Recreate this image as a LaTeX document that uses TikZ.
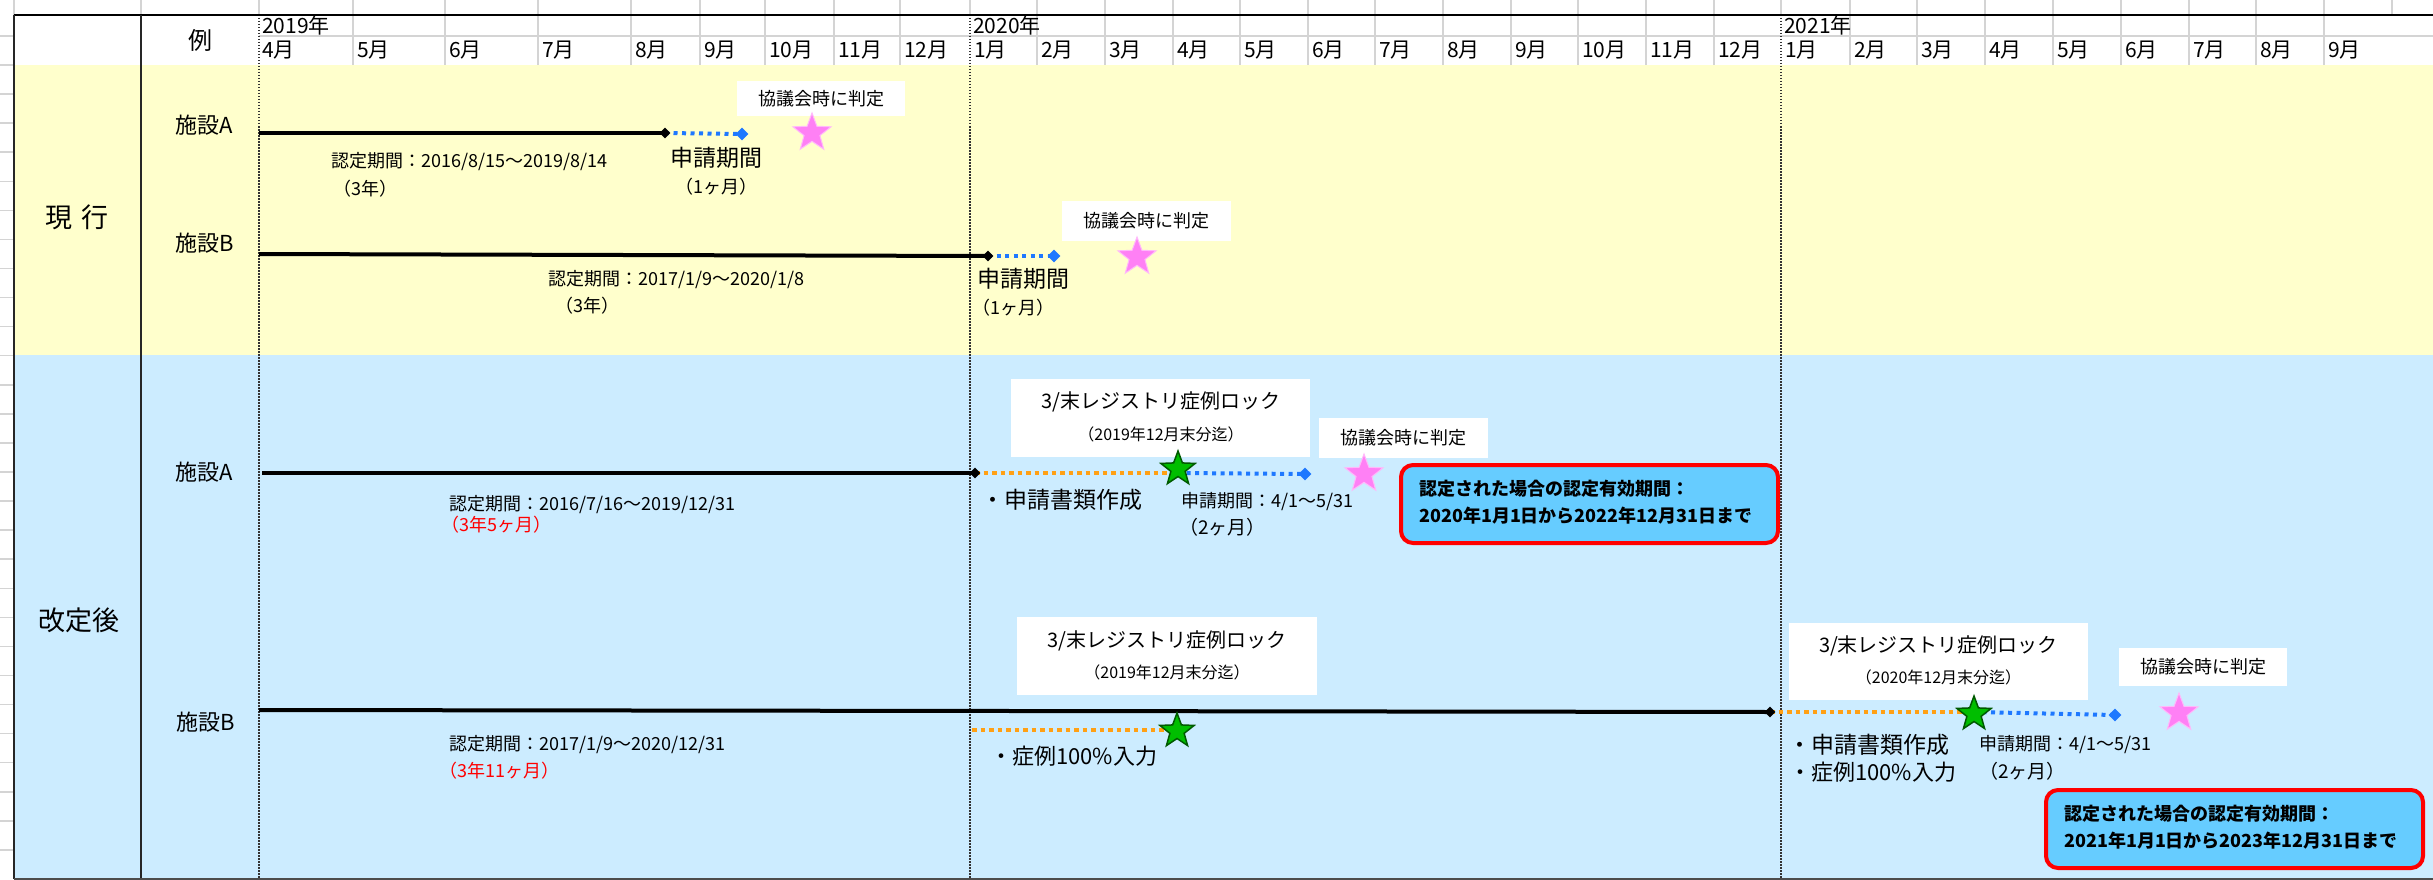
\documentclass[tikz,border=0pt]{standalone}
\usepackage{fontspec}
\setmainfont{Noto Sans CJK JP}
\usetikzlibrary{shapes.geometric}
\definecolor{yel}{RGB}{255,255,204}
\definecolor{lblue}{RGB}{204,236,255}
\definecolor{gridc}{RGB}{212,212,212}
\definecolor{dotblue}{RGB}{30,120,255}
\definecolor{dotorange}{RGB}{255,160,20}
\definecolor{pinkstar}{RGB}{255,128,245}
\definecolor{pinkedge}{RGB}{255,185,250}
\definecolor{greenstar}{RGB}{0,190,0}
\definecolor{greenedge}{RGB}{0,90,0}
\definecolor{boxblue}{RGB}{102,204,255}
\definecolor{redtext}{RGB}{255,0,0}
\newcommand{\myfs}[1]{\fontsize{#1pt}{#1pt}\selectfont}
\tikzset{
  gridline/.style={draw=gridc, line width=1.5pt},
  vdots/.style={draw=black!80, line width=1.5pt, dash pattern=on 1.5pt off 1.5pt},
  bline/.style={draw=black, line width=4pt},
  udot/.style={draw=dotblue, line width=4pt, dash pattern=on 4pt off 4.5pt},
  odot/.style={draw=dotorange, line width=4pt, dash pattern=on 4.5pt off 4pt},
  bdia/.style={diamond, fill=black, minimum size=11pt, inner sep=0pt},
  udia/.style={diamond, fill=dotblue, minimum size=13pt, inner sep=0pt},
  pstar/.style={star, star points=5, star point ratio=2.4, fill=pinkstar, draw=pinkedge, line width=1pt, minimum size=40pt, inner sep=0pt},
  gstar/.style={star, star points=5, star point ratio=2.4, fill=greenstar, draw=greenedge, line width=1.5pt, minimum size=36pt, inner sep=0pt},
  wbox/.style={fill=white, inner sep=0pt},
  rbox/.style={fill=boxblue, draw=redtext, line width=4pt, rounded corners=12pt, inner sep=0pt},
  txt/.style={inner sep=0pt, anchor=west},
  ctxt/.style={inner sep=0pt},
  hdr/.style={inner sep=0pt, anchor=west, font=\myfs{21}},
}
\begin{document}
\begin{tikzpicture}[x=1pt,y=-1pt]
\useasboundingbox (0,0) rectangle (2433,880);
\fill[white] (0,0) rectangle (2433,880);
\fill[yel] (14,65) rectangle (2433,355);
\fill[lblue] (14,355) rectangle (2433,879);
% spreadsheet grid outside and in header
\foreach \x in {14,141,259,353,445,538,631,700,765,834,900,970,1037,1105,1173,1240,1308,1375,1443,1511,1578,1646,1714,1781,1850,1917,1985,2053,2121,2189,2256,2324,2392}
  \draw[gridline] (\x,0) -- (\x,15);
\foreach \x in {353,445,538,631,700,765,834,900,1037,1105,1173,1240,1308,1375,1443,1511,1578,1646,1714,1850,1917,1985,2053,2121,2189,2256,2324}
  \draw[gridline] (\x,15) -- (\x,65);
\draw[gridline] (259,36) -- (2433,36);
\draw[gridline] (0,36) -- (14,36);
\foreach \k in {0,...,27}
  \draw[gridline] (0,{65+29.07*\k}) -- (14,{65+29.07*\k});
% year dividers
\draw[vdots] (259,15) -- (259,879);
\draw[vdots] (970,15) -- (970,879);
\draw[vdots] (1781,15) -- (1781,879);
% borders
\draw[black, line width=2.5pt] (14,15) -- (2433,15);
\draw[black!85, line width=2pt] (14,15) -- (14,879);
\draw[black!85, line width=2pt] (141,15) -- (141,879);
\draw[black!70, line width=1.5pt] (14,879) -- (2433,879);
% header
\node[ctxt, font=\myfs{24}] (rei) at (200,40) {例};
\node[hdr] (y2019) at (262,25) {2019年};
\node[hdr] (y2020) at (973,25) {2020年};
\node[hdr] (y2021) at (1784,25) {2021年};
\foreach \x/\m [count=\i] in {258/4,353/5,445/6,538/7,631/8,700/9,765/10,834/11,900/12,970/1,1037/2,1105/3,1173/4,1240/5,1308/6,1375/7,1443/8,1511/9,1578/10,1646/11,1714/12,1781/1,1850/2,1917/3,1985/4,2053/5,2121/6,2189/7,2256/8,2324/9}
  \node[hdr] (mon\i) at (\x+4,50) {\m 月};
% section labels
\node[ctxt, font=\myfs{27}] (genko) at (77,217) {現\hspace{10pt}行};
\node[ctxt, font=\myfs{27}] (kaitei) at (79,620) {改定後};
\node[txt, font=\myfs{22}] (gA) at (175,125) {施設A};
\node[txt, font=\myfs{22}] (gB) at (175,243) {施設B};
\node[txt, font=\myfs{22}] (kA) at (175,472) {施設A};
\node[txt, font=\myfs{22}] (kB) at (176,722) {施設B};

% ---------- white text boxes ----------
\node[wbox, minimum width=168pt, minimum height=35pt, font=\myfs{18}] (gAj) at (821,98.5) {協議会時に判定};
\node[wbox, minimum width=169pt, minimum height=40pt, font=\myfs{18}] (gBj) at (1146.5,221) {協議会時に判定};
\node[wbox, minimum width=299pt, minimum height=78pt] (kAlock) at (1160.5,418) {};
\node[ctxt, font=\myfs{20}] (kAlock1) at (1161,402) {3/末レジストリ症例ロック};
\node[ctxt, font=\myfs{16}] (kAlock2) at (1161,434) {（2019年12月末分迄）};
\node[wbox, minimum width=169pt, minimum height=40pt, font=\myfs{18}] (kAj) at (1403.5,438) {協議会時に判定};
\node[wbox, minimum width=300pt, minimum height=78pt] (kBlock) at (1167,656) {};
\node[ctxt, font=\myfs{20}] (kBlock1) at (1167,641) {3/末レジストリ症例ロック};
\node[ctxt, font=\myfs{16}] (kBlock2) at (1167,672) {（2019年12月末分迄）};
\node[wbox, minimum width=299pt, minimum height=77pt] (kBlockR) at (1938.5,661.5) {};
\node[ctxt, font=\myfs{20}] (kBlockR1) at (1938.5,646) {3/末レジストリ症例ロック};
\node[ctxt, font=\myfs{16}] (kBlockR2) at (1938.5,677) {（2020年12月末分迄）};
\node[wbox, minimum width=168pt, minimum height=38pt, font=\myfs{18}] (kBj) at (2203,667) {協議会時に判定};

% ---------- current A ----------
\coordinate (gA0) at (259,133);
\coordinate (gA1) at (665,133);
\coordinate (gA2) at (742,134);
\draw[bline] (gA0) -- (gA1);
\draw[udot] (gA1) -- (gA2);
\node[bdia] (gA1d) at (gA1) {};
\node[udia] (gA2d) at (gA2) {};
\node[pstar] (gAs) at (812,133) {};
\node[txt, font=\myfs{18}] (gAp) at (331,162) {認定期間：2016/8/15～2019/8/14};
\node[txt, font=\myfs{18}] (gAy) at (333,189) {（3年）};
\node[txt, font=\myfs{23}] (gAa) at (670,158) {申請期間};
\node[txt, font=\myfs{18}] (gAm) at (675,187) {（1ヶ月）};

% ---------- current B ----------
\coordinate (gB0) at (259,254);
\coordinate (gB1) at (988,256);
\coordinate (gB2) at (1054,256);
\draw[bline] (gB0) -- (gB1);
\draw[udot] (gB1) -- (gB2);
\node[bdia] (gB1d) at (gB1) {};
\node[udia] (gB2d) at (gB2) {};
\node[pstar] (gBs) at (1137,257) {};
\node[txt, font=\myfs{18}] (gBp) at (548,280) {認定期間：2017/1/9～2020/1/8};
\node[txt, font=\myfs{18}] (gBy) at (555,306) {（3年）};
\node[txt, font=\myfs{23}] (gBa) at (977,279) {申請期間};
\node[txt, font=\myfs{18}] (gBm) at (972,308) {（1ヶ月）};

% ---------- revised A ----------
\coordinate (kA0) at (262,473);
\coordinate (kA1) at (975,473);
\coordinate (kA2) at (1178,473);
\coordinate (kA3) at (1305,474);
\draw[bline] (kA0) -- (kA1);
\draw[odot] (kA1) -- (kA2);
\draw[udot] (kA2) -- (kA3);
\node[bdia] (kA1d) at (kA1) {};
\node[udia] (kA3d) at (kA3) {};
\node[gstar] (kAg) at (1178,469) {};
\node[pstar] (kAs) at (1364,474) {};
\node[txt, font=\myfs{18}] (kAp) at (449,505) {認定期間：2016/7/16～2019/12/31};
\node[txt, font=\myfs{18}, text=redtext] (kAy) at (441,525) {（3年5ヶ月）};
\node[txt, font=\myfs{23}] (kAd) at (981,500) {・申請書類作成};
\node[txt, font=\myfs{18}] (kAa) at (1181,502) {申請期間：4/1～5/31};
\node[txt, font=\myfs{19}] (kAm) at (1179,527) {（2ヶ月）};
\node[rbox, minimum width=377pt, minimum height=78pt] (kAr) at (1589.5,504) {};
\node[txt, font=\myfs{18}\bfseries] (kAr1) at (1419,489) {認定された場合の認定有効期間：};
\node[txt, font=\myfs{18}\bfseries] (kAr2) at (1419,516) {2020年1月1日から2022年12月31日まで};

% ---------- revised B ----------
\coordinate (kB0) at (259,710);
\coordinate (kB1) at (1770,712);
\coordinate (kB2) at (1974,712);
\coordinate (kB3) at (2115,715);
\coordinate (kC0) at (972,730);
\coordinate (kC1) at (1177,730);
\draw[bline] (kB0) -- (kB1);
\draw[odot] (kB1) -- (kB2);
\draw[udot] (kB2) -- (kB3);
\draw[odot] (kC0) -- (kC1);
\node[bdia] (kB1d) at (kB1) {};
\node[udia] (kB3d) at (kB3) {};
\node[gstar] (kBg) at (1974,714) {};
\node[gstar] (kCg) at (1177,731) {};
\node[pstar] (kBs) at (2179,713) {};
\node[txt, font=\myfs{18}] (kBp) at (449,745) {認定期間：2017/1/9～2020/12/31};
\node[txt, font=\myfs{18}, text=redtext] (kBy) at (439,771) {（3年11ヶ月）};
\node[txt, font=\myfs{22}] (kCd) at (990,756) {・症例100\%入力};
\node[txt, font=\myfs{23}] (kBd1) at (1788,745) {・申請書類作成};
\node[txt, font=\myfs{22}] (kBd2) at (1789,772) {・症例100\%入力};
\node[txt, font=\myfs{18}] (kBa) at (1979,745) {申請期間：4/1～5/31};
\node[txt, font=\myfs{19}] (kBm) at (1979,771) {（2ヶ月）};
\node[rbox, minimum width=377pt, minimum height=78pt] (kBr) at (2234.5,829) {};
\node[txt, font=\myfs{18}\bfseries] (kBr1) at (2064,814) {認定された場合の認定有効期間：};
\node[txt, font=\myfs{18}\bfseries] (kBr2) at (2064,841) {2021年1月1日から2023年12月31日まで};
\end{tikzpicture}
\end{document}
